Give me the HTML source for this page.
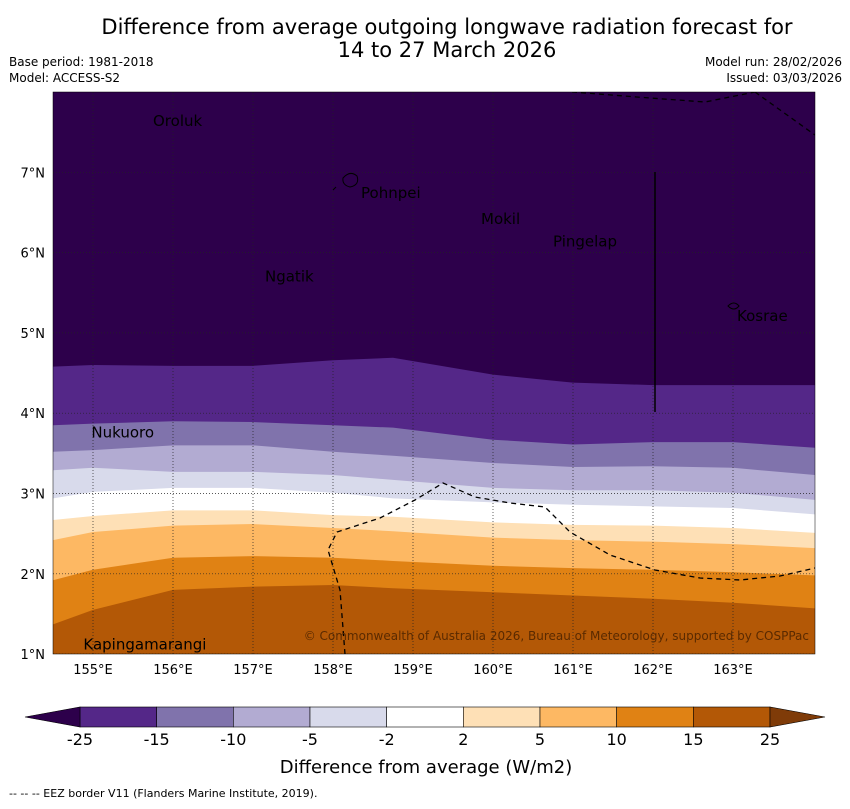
<!DOCTYPE html>
<html><head><meta charset="utf-8"><style>
body{margin:0;background:#fff;font-family:"Liberation Sans","DejaVu Sans",sans-serif}
svg text{font-family:"DejaVu Sans","Liberation Sans",sans-serif}
</style></head><body>
<svg id="chart" width="850" height="804" viewBox="0 0 850 804">
<text x="447" y="34" font-size="21" text-anchor="middle">Difference from average outgoing longwave radiation forecast for</text>
<text x="447" y="57" font-size="21" text-anchor="middle">14 to 27 March 2026</text>
<text x="9" y="66" font-size="12">Base period: 1981-2018</text>
<text x="9" y="82" font-size="12">Model: ACCESS-S2</text>
<text x="842" y="66" font-size="12" text-anchor="end">Model run: 28/02/2026</text>
<text x="842" y="82" font-size="12" text-anchor="end">Issued: 03/03/2026</text>
<defs><clipPath id="pc"><rect x="53" y="92" width="762" height="562"/></clipPath></defs>
<g id="plot" clip-path="url(#pc)"></g>
<g id="axes"></g>
<g id="cbar"></g>
<text x="426" y="773" font-size="18" text-anchor="middle">Difference from average (W/m2)</text>
<text x="9" y="797" font-size="11">--  --  -- EEZ border V11 (Flanders Marine Institute, 2019).</text>
</svg>
<script>
const lons=[154.5,155,156,157,158,158.75,160,161,162,163,164.025];
const levels=[-25,-15,-10,-5,-2,2,5,10,15,25];
const colors=["#2d004b","#542788","#8073ac","#b2abd2","#d8daeb","#ffffff","#fee0b6","#fdb863","#e08214","#b35806"];
const b1=[4.58,4.60,4.59,4.59,4.66,4.69,4.48,4.38,4.35,4.35,4.35];
const b2=[3.85,3.87,3.90,3.89,3.85,3.82,3.67,3.61,3.64,3.64,3.57];
const b3=[3.52,3.54,3.60,3.60,3.52,3.47,3.38,3.33,3.34,3.32,3.23];
const b4=[3.29,3.32,3.27,3.27,3.23,3.17,3.07,3.04,3.04,3.01,2.92];
const b5=[2.94,3.02,3.07,3.07,3.01,2.94,2.89,2.86,2.84,2.82,2.74];
const b6=[2.67,2.72,2.79,2.79,2.73,2.71,2.64,2.61,2.60,2.57,2.51];
const b7=[2.42,2.52,2.60,2.62,2.57,2.53,2.45,2.42,2.40,2.37,2.32];
const b8=[1.92,2.05,2.20,2.22,2.20,2.16,2.10,2.07,2.05,2.02,1.98];
const b9=[1.37,1.55,1.80,1.84,1.86,1.82,1.77,1.73,1.69,1.64,1.57];
const bounds=[b1,b2,b3,b4,b5,b6,b7,b8,b9];
const xTicks=[155,156,157,158,159,160,161,162,163];
const yTicks=[1,2,3,4,5,6,7];
const places=[["Oroluk",155.75,7.64],["Pohnpei",158.35,6.74],["Mokil",159.85,6.42],["Pingelap",160.75,6.14],["Ngatik",157.15,5.7],["Kosrae",163.05,5.21],["Nukuoro",154.98,3.76],["Kapingamarangi",154.88,1.12]];
const X=l=>53+(l-154.5)*80;
const Y=la=>92+(8-la)*80.3;
const NS="http://www.w3.org/2000/svg";
function mk(p,t,a){const e=document.createElementNS(NS,t);for(const k in a)e.setAttribute(k,a[k]);p.appendChild(e);return e;}
const plot=document.getElementById('plot');
const bg=mk(plot,'rect',{x:53,y:92,width:762,height:562,fill:colors[0]});


bounds.forEach((b,i)=>{
  let d='M'+X(lons[0])+' '+Y(b[0]);
  for(let j=1;j<lons.length;j++)d+=' L'+X(lons[j])+' '+Y(b[j]);
  d+=' L'+X(lons[lons.length-1])+' 660 L'+X(lons[0])+' 660 Z';
  const p=mk(plot,'path',{d:d,fill:colors[i+1]});
  
  
});
xTicks.forEach(t=>{const l=mk(plot,'line',{x1:X(t),x2:X(t),y1:92,y2:654,stroke:'#222','stroke-width':0.7,'stroke-dasharray':'1,2'});

});
yTicks.forEach(t=>{const l=mk(plot,'line',{x1:53,x2:815,y1:Y(t),y2:Y(t),stroke:'#222','stroke-width':0.7,'stroke-dasharray':'1,2'});

});
const e1=mk(plot,'path',{d:'M572 92 L650 98 L705 102 L755 92 M755 92 L815 135',fill:'none',stroke:'#000','stroke-width':1.3,'stroke-dasharray':'5,4'});


const e2=mk(plot,'path',{d:'M345 654 L340 590 L328 550 L337 532 L380 518 L415 500 L443 483 L475 497 L510 503 L545 507 L570 532 L610 555 L655 570 L700 578 L740 580 L780 576 L815 568',fill:'none',stroke:'#000','stroke-width':1.3,'stroke-dasharray':'5,4'});


const vl=mk(plot,'line',{x1:655,x2:655,y1:172,y2:412,stroke:'#000','stroke-width':1.5});


const isl=mk(plot,'path',{d:'M343 178 Q350 170 357 176 Q360 185 350 187 Q342 185 343 178 Z M333 190 L336 187 M728 306 Q734 300 739 306 Q734 312 728 306 Z',fill:'none',stroke:'#000','stroke-width':1});


places.forEach(p=>{const t=mk(plot,'text',{x:X(p[1]),y:Y(p[2])+5,'font-size':15,fill:'#000'});t.textContent=p[0];

});
const cp=mk(plot,'text',{x:809,y:640,'font-size':12,'text-anchor':'end',fill:'#5a2a00'});
cp.textContent='© Commonwealth of Australia 2026, Bureau of Meteorology, supported by COSPPac';


const ax=document.getElementById('axes');
const fr=mk(ax,'rect',{x:53,y:92,width:762,height:562,fill:'none',stroke:'#000','stroke-width':0.5});


xTicks.forEach(t=>{const e=mk(ax,'text',{x:X(t),y:674,'font-size':13,'text-anchor':'middle'});e.textContent=t+'°E';

});
yTicks.forEach(t=>{const e=mk(ax,'text',{x:45,y:Y(t)+5,'font-size':13,'text-anchor':'end'});e.textContent=t+'°N';

});
const cb=document.getElementById('cbar');
const cx0=80,cw=690/9,cy=707,ch=20;
for(let i=0;i<9;i++){const r=mk(cb,'rect',{x:cx0+i*cw,y:cy,width:cw,height:ch,fill:colors[i+1],stroke:'#000','stroke-width':0.6});

}
const tl=mk(cb,'polygon',{points:`${cx0},${cy} ${cx0},${cy+ch} 25,${cy+ch/2}`,fill:colors[0],stroke:'#000','stroke-width':0.6});


const tr=mk(cb,'polygon',{points:`770,${cy} 770,${cy+ch} 825,${cy+ch/2}`,fill:'#7f3b08',stroke:'#000','stroke-width':0.6});


levels.forEach((v,i)=>{const t=mk(cb,'text',{x:cx0+i*cw,y:745,'font-size':16,'text-anchor':'middle'});t.textContent=v;

});
</script>
</body></html>
